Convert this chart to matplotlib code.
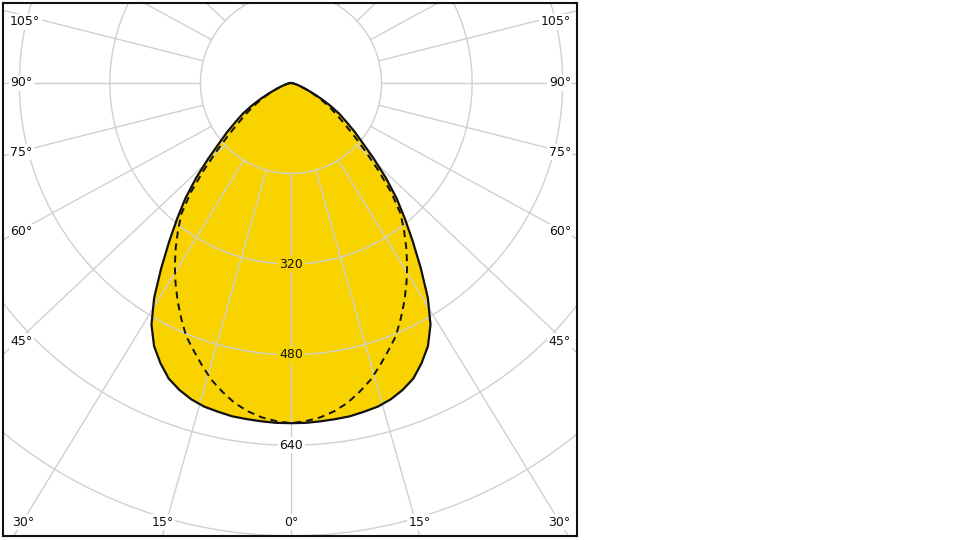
import numpy as np
import matplotlib.pyplot as plt
from matplotlib.patches import Circle

angles = np.arange(0, 90.1, 2.5)
solid_cd = [601, 601, 600, 599, 598, 595, 592, 586, 577, 565, 546, 524, 493, 450,
            400, 354, 313, 276, 237, 199, 166, 142, 119, 101, 80, 60, 42, 29,
            20, 14, 10, 6, 4, 2, 1, 0, 0]
dashed_cd = [601, 598, 593, 585, 574, 559, 543, 523, 503, 484, 459, 434, 408, 382,
             355, 328, 301, 262, 218, 178, 146, 120, 100, 83, 67, 52, 39, 28,
             19, 13, 9, 6, 4, 2, 1, 0, 0]

rings = [160, 320, 480, 640, 800]
ring_labels = [320, 480, 640]
spokes = list(range(0, 360, 15))
side_labels = [45, 60, 75, 90, 105]
bottom_labels = [0, 15, 30]

yellow = '#F8D300'
grid_c = '#D0D0D0'
ink = '#111111'

# pixel layout of the frame
scale = 0.566          # px per cd
cx, cy = 291, 83       # pole position in px
x0, y0, x1, y1 = 3, 3, 577, 536
stretch = 1.06         # spokes look slightly spread sideways


def px(x, y):
    return (x - cx) / scale, (cy - y) / scale


fig = plt.figure(figsize=(9.6, 5.4), dpi=100)
ax = fig.add_axes([x0 / 960, 1 - y1 / 540, (x1 - x0) / 960, (y1 - y0) / 540])
ax.set_xlim(px(x0, 0)[0], px(x1, 0)[0])
ax.set_ylim(px(0, y1)[1], px(0, y0)[1])
ax.set_xticks([])
ax.set_yticks([])
for sp in ax.spines.values():
    sp.set_linewidth(1.5)
    sp.set_color(ink)
    sp.set_zorder(10)

# mirror the half curves to both sides
a = np.radians(angles)
th = np.concatenate([-a[::-1], a[1:]])
sol = np.concatenate([solid_cd[::-1], solid_cd[1:]])
das = np.concatenate([dashed_cd[::-1], dashed_cd[1:]])

xs, ys = sol * np.sin(th), -sol * np.cos(th)
xd, yd = das * np.sin(th), -das * np.cos(th)

ax.fill(xs, ys, color=yellow, lw=0, zorder=1)

# grid
for r in rings:
    ax.add_patch(Circle((0, 0), r, fill=False, ec=grid_c, lw=1.0, zorder=2))
for s in spokes:
    t = np.radians(s)
    phi = np.arctan2(stretch * np.sin(t), np.cos(t))
    ax.plot([rings[0] * np.sin(phi), 2000 * np.sin(phi)],
            [-rings[0] * np.cos(phi), -2000 * np.cos(phi)],
            color=grid_c, lw=1.0, zorder=2)

fs = 9
for v in ring_labels:
    bg = yellow if v < solid_cd[0] else 'white'
    ax.text(0, -v, str(v), ha='center', va='center', fontsize=fs, color=ink,
            zorder=3, bbox=dict(fc=bg, ec='none', pad=1.2))

for s in side_labels:
    yy = cy + 258 / np.tan(np.radians(s))
    yy = max(yy, 22)
    ax.text(*px(10, yy), f'{s}°', ha='left', va='center', fontsize=fs, color=ink,
            zorder=3, bbox=dict(fc='white', ec='none', pad=1.0))
    ax.text(*px(571, yy), f'{s}°', ha='right', va='center', fontsize=fs, color=ink,
            zorder=3, bbox=dict(fc='white', ec='none', pad=1.0))

for s in bottom_labels:
    dx = min(453 * stretch * np.tan(np.radians(s)), 268)
    for sign in ([1] if s == 0 else [-1, 1]):
        ax.text(*px(cx + sign * dx, 522), f'{s}°', ha='center', va='center', fontsize=fs,
                color=ink, zorder=3, bbox=dict(fc='white', ec='none', pad=1.0))

ax.plot(xs, ys, color=ink, lw=1.6, zorder=4, solid_joinstyle='round')
ax.plot(xd, yd, color=ink, lw=1.4, zorder=4, linestyle=(0, (3.6, 2.6)))

fig.savefig('out.png', dpi=100)
